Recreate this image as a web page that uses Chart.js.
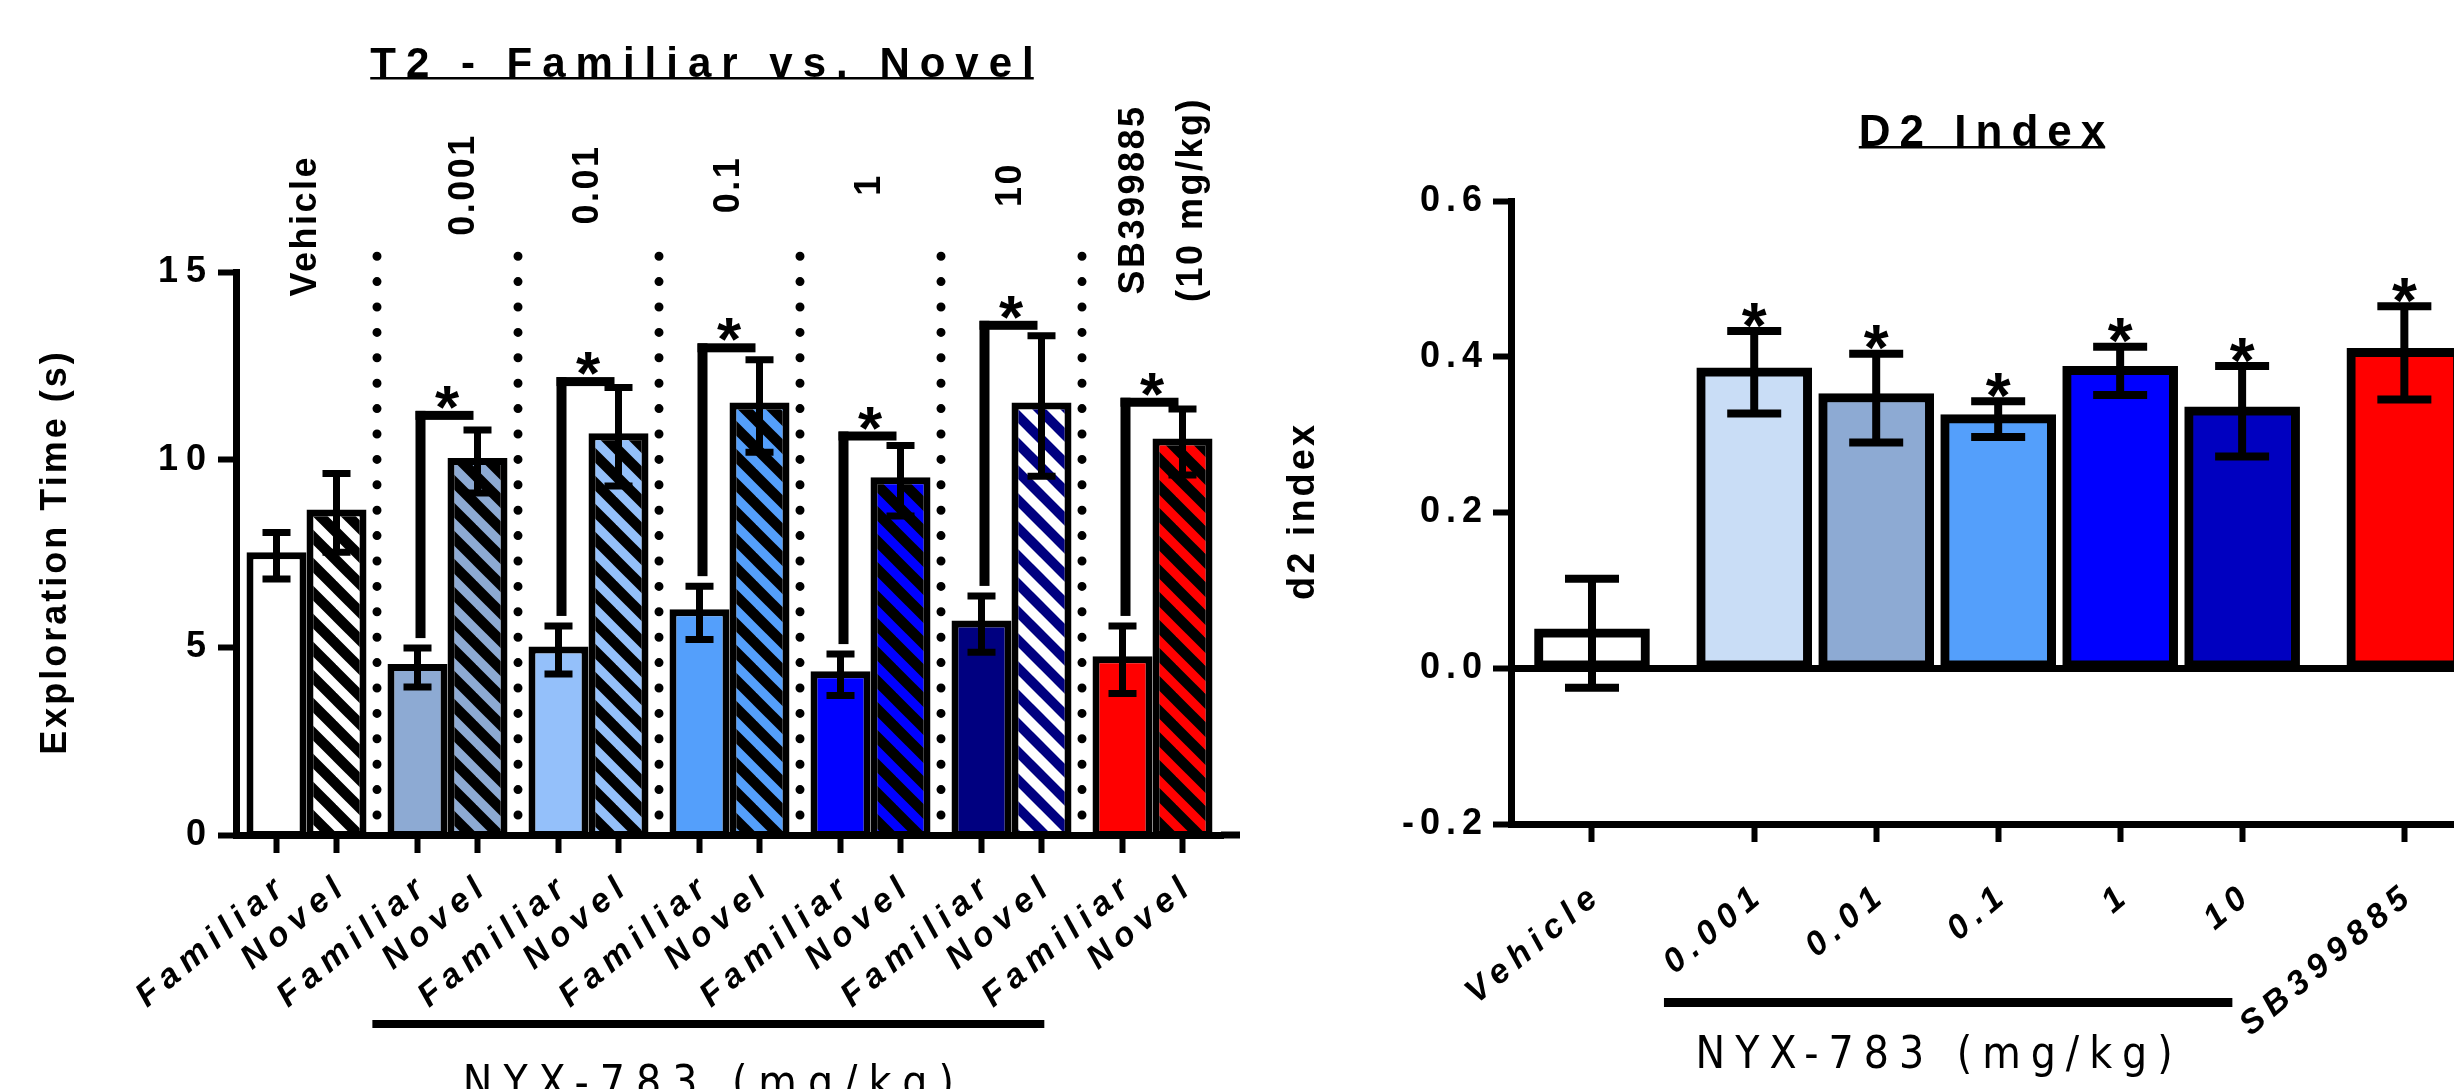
<!DOCTYPE html>
<html>
<head>
<meta charset="UTF-8">
<title>T2 - Familiar vs. Novel / D2 Index</title>
<script src="https://cdn.jsdelivr.net/npm/chart.js"></script>
<style>
  html, body { margin: 0; padding: 0; background: #fff; overflow: hidden; width: 2454px; height: 1089px; }
  #boxT2 { position: absolute; left: 0; top: 0; width: 1290px; height: 1150px; }
  #boxD2 { position: absolute; left: 1280px; top: 0; width: 1300px; height: 1150px; }
</style>
</head>
<body>
<div id="boxT2"><canvas id="chartT2" width="1290" height="1150"></canvas></div>
<div id="boxD2"><canvas id="chartD2" width="1300" height="1150"></canvas></div>
<script>
// ---- data: T2 exploration time (s) ----
const doseGroups = ['Vehicle', '0.001', '0.01', '0.1', '1', '10', 'SB399885'];
const sessionLabels = ['Familiar', 'Novel'];
const familiarMean = [7.44, 4.46, 4.93, 5.92, 4.27, 5.62, 4.67];
const familiarSem = [0.62, 0.52, 0.64, 0.71, 0.55, 0.75, 0.90];
const novelMean = [8.58, 9.95, 10.61, 11.43, 9.44, 11.43, 10.47];
const novelSem = [1.05, 0.84, 1.31, 1.23, 0.94, 1.87, 0.88];
const bracketLevel = [null, 11.3, 12.2, 13.1, 10.75, 13.7, 11.65];
const t2Ticks = [0, 5, 10, 15];

// ---- data: D2 index ----
const d2Groups = ['Vehicle', '0.001', '0.01', '0.1', '1', '10', 'SB399885'];
const d2Kind = ['control', 'nyx', 'nyx', 'nyx', 'nyx', 'nyx', 'reference'];
const d2Mean = [0.045, 0.38, 0.347, 0.32, 0.382, 0.33, 0.405];
const d2Sem = [0.07, 0.053, 0.057, 0.023, 0.031, 0.058, 0.06];
const d2Significant = [false, true, true, true, true, true, true];

// ---- styles ----
const FONT = "'Liberation Sans', Arial, sans-serif";
const NARROW = "'Liberation Sans Narrow', 'DejaVu Sans Condensed', sans-serif";
const t2Colors = ['#ffffff', '#8daad3', '#94c0fa', '#549ffb', '#0000ff', '#000080', '#ff0000'];
const d2Colors = ['#ffffff', '#c9ddf6', '#8daad3', '#549ffb', '#0000ff', '#0000c0', '#ff0000'];

function stripes(bg, fg, lw) {
    const c = document.createElement('canvas');
    c.width = 28; c.height = 28;
    const g = c.getContext('2d');
    g.fillStyle = bg;
    g.fillRect(0, 0, 28, 28);
    g.strokeStyle = fg;
    g.lineWidth = lw;
    for (let k = -1; k <= 1; k++) {
        g.beginPath();
        g.moveTo(k * 28 - 4, -4);
        g.lineTo(k * 28 + 32, 32);
        g.stroke();
    }
    return g.createPattern(c, 'repeat');
}
const novelFills = t2Colors.map((c, i) => i === 5 ? stripes('#000080', '#ffffff', 10) : stripes(c, '#000000', 10.5));

function drawText(ctx, text, x, y, o) {
    const s = o.spacing || 0;
    const align = o.align || 'center';
    ctx.save();
    ctx.font = o.font;
    ctx.letterSpacing = s + 'px';
    ctx.fillStyle = '#000';
    ctx.textAlign = align;
    ctx.textBaseline = o.baseline || 'alphabetic';
    ctx.translate(x, y);
    if (o.rotate) ctx.rotate(o.rotate);
    const shift = align === 'center' ? s / 2 : (align === 'right' ? s : 0);
    ctx.fillText(text, shift, 0);
    const w = ctx.measureText(text).width - s;
    ctx.restore();
    return w;
}

function drawErrorBar(ctx, x, yHi, yLo, half, lw) {
    ctx.lineWidth = lw;
    ctx.beginPath();
    ctx.moveTo(x, yHi); ctx.lineTo(x, yLo);
    ctx.moveTo(x - half, yHi); ctx.lineTo(x + half, yHi);
    ctx.moveTo(x - half, yLo); ctx.lineTo(x + half, yLo);
    ctx.stroke();
}

// bar outlines centred on the value line, as in the original figure
const centeredBorder = {
    id: 'centeredBorder',
    afterDatasetsUpdate(chart) {
        chart.data.datasets.forEach((ds, di) => {
            const half = ds.borderWidth / 2;
            chart.getDatasetMeta(di).data.forEach(el => { el.y -= half; el.base += half; });
        });
    }
};

const ROT = -40 * Math.PI / 180;

// ---- left chart extras ----
const t2Extras = {
    id: 't2Extras',
    beforeDraw(chart) { chart.ctx.letterSpacing = '8px'; },
    afterDraw(chart) {
        const ctx = chart.ctx, xs = chart.scales.x, ys = chart.scales.y;
        const fam = chart.getDatasetMeta(0).data, nov = chart.getDatasetMeta(1).data;
        const y0 = ys.getPixelForValue(0);
        const u = xs.getPixelForValue(1) - xs.getPixelForValue(0);
        ctx.save();
        ctx.letterSpacing = '0px';
        ctx.strokeStyle = '#000';
        ctx.fillStyle = '#000';

        // axis line runs a bit past the last group
        ctx.fillRect(chart.chartArea.right - 2, y0 - 3.5, 19, 7);

        // error bars
        fam.forEach((b, i) => drawErrorBar(ctx, b.x, ys.getPixelForValue(familiarMean[i] + familiarSem[i]), ys.getPixelForValue(familiarMean[i] - familiarSem[i]), 14, 7));
        nov.forEach((b, i) => drawErrorBar(ctx, b.x, ys.getPixelForValue(novelMean[i] + novelSem[i]), ys.getPixelForValue(novelMean[i] - novelSem[i]), 14, 7));

        // dotted separators between groups
        ctx.lineWidth = 9;
        ctx.lineCap = 'round';
        ctx.setLineDash([0, 25.4]);
        for (let i = 0; i < doseGroups.length - 1; i++) {
            const x = (nov[i].x + fam[i + 1].x) / 2;
            ctx.beginPath();
            ctx.moveTo(x, y0 - 20);
            ctx.lineTo(x, ys.getPixelForValue(16.0));
            ctx.stroke();
        }
        ctx.setLineDash([]);
        ctx.lineCap = 'butt';

        // significance brackets
        for (let i = 0; i < doseGroups.length; i++) {
            if (bracketLevel[i] === null) continue;
            const xf = fam[i].x + 3, xn = nov[i].x - 4;
            const yl = ys.getPixelForValue(bracketLevel[i]);
            const yb = ys.getPixelForValue(familiarMean[i] + familiarSem[i]) - 10;
            ctx.fillRect(xf - 5, yl, 10, yb - yl);
            ctx.fillRect(xf - 5, yl, xn - xf + 5, 9);
            drawText(ctx, '*', (xf + xn) / 2, yl + 17, { font: 'bold 62px ' + FONT });
        }

        // tick marks under each bar
        ctx.lineWidth = 6;
        fam.concat(nov).forEach(b => {
            ctx.beginPath();
            ctx.moveTo(b.x, y0);
            ctx.lineTo(b.x, y0 + 18);
            ctx.stroke();
        });

        // rotated session labels
        const lf = 'italic bold 34px ' + FONT;
        fam.forEach(b => drawText(ctx, sessionLabels[0], b.x + 8, y0 + 58, { font: lf, spacing: 7, align: 'right', rotate: ROT }));
        nov.forEach(b => drawText(ctx, sessionLabels[1], b.x + 8, y0 + 58, { font: lf, spacing: 7, align: 'right', rotate: ROT }));

        // NYX-783 bar and label
        const bx0 = fam[1].x - 0.32 * u, bx1 = nov[5].x + 0.02 * u;
        ctx.fillRect(bx0, y0 + 185, bx1 - bx0, 8);
        drawText(ctx, 'NYX-783 (mg/kg)', (bx0 + bx1) / 2, y0 + 262, { font: '44px ' + NARROW, spacing: 11 });

        // group labels above the bars
        const gf = 'bold 36px ' + FONT;
        const up = -Math.PI / 2;
        for (let i = 0; i < 6; i++) {
            const gx = xs.getPixelForValue(i) + (i === 1 ? 0.12 * u : 0);
            const gy = ys.getPixelForValue(i === 0 ? 16.2 : 17.3);
            drawText(ctx, doseGroups[i], gx, gy, { font: gf, spacing: 2.5, rotate: up, baseline: 'middle' });
        }
        const sx = xs.getPixelForValue(6);
        drawText(ctx, doseGroups[6], sx - 18, ys.getPixelForValue(16.9), { font: gf, spacing: 2.5, rotate: up, baseline: 'middle' });
        drawText(ctx, '(10 mg/kg)', sx + 40, ys.getPixelForValue(16.9), { font: gf, spacing: 2.5, rotate: up, baseline: 'middle' });

        // title and axis title
        const tw = drawText(ctx, 'T2 - Familiar vs. Novel', 702, 77, { font: 'bold 42px ' + FONT, spacing: 10 });
        ctx.fillRect(702 - tw / 2, 77, tw, 2.5);
        drawText(ctx, 'Exploration Time (s)', 56, (ys.top + ys.bottom) / 2, { font: 'bold 36px ' + FONT, spacing: 3, rotate: up, baseline: 'middle' });
        ctx.restore();
    }
};

new Chart(document.getElementById('chartT2'), {
    type: 'bar',
    data: {
        labels: doseGroups,
        datasets: [
            { label: sessionLabels[0], data: familiarMean, backgroundColor: t2Colors,
              borderColor: '#000', borderWidth: 7, borderSkipped: false,
              categoryPercentage: 0.851, barPercentage: 1.0 },
            { label: sessionLabels[1], data: novelMean, backgroundColor: novelFills,
              borderColor: '#000', borderWidth: 7, borderSkipped: false,
              categoryPercentage: 0.851, barPercentage: 1.0 }
        ]
    },
    options: {
        responsive: false,
        animation: false,
        devicePixelRatio: 1,
        layout: { padding: { top: 272, left: 0, right: 67, bottom: 0 } },
        plugins: { legend: { display: false }, tooltip: { enabled: false } },
        scales: {
            x: {
                grid: { display: false },
                ticks: { display: false },
                border: { display: true, color: '#000', width: 7 },
                afterFit(s) { s.height = 315; }
            },
            y: {
                min: 0, max: 15,
                afterBuildTicks(s) { s.ticks = t2Ticks.map(v => ({ value: v })); },
                ticks: { color: '#000', padding: 4, font: { family: FONT, size: 36, weight: 'bold' } },
                grid: { display: true, drawOnChartArea: false, drawTicks: true, tickLength: 18, tickWidth: 6, tickColor: '#000' },
                border: { display: true, color: '#000', width: 7 },
                afterFit(s) { s.width = 236; }
            }
        }
    },
    plugins: [centeredBorder, t2Extras]
});

// ---- right chart ----
const kindGap = 0.33;
const d2X = [];
let pos = 0;
d2Groups.forEach((g, i) => {
    if (i > 0) pos += 1 + (d2Kind[i] !== d2Kind[i - 1] ? kindGap : 0);
    d2X.push(pos);
});

const d2Extras = {
    id: 'd2Extras',
    beforeDraw(chart) { chart.ctx.letterSpacing = '6px'; },
    afterDraw(chart) {
        const ctx = chart.ctx, xs = chart.scales.x, ys = chart.scales.y;
        const bars = chart.getDatasetMeta(0).data;
        const yb = ys.bottom;
        const u = xs.getPixelForValue(1) - xs.getPixelForValue(0);
        ctx.save();
        ctx.letterSpacing = '0px';
        ctx.strokeStyle = '#000';
        ctx.fillStyle = '#000';

        bars.forEach((b, i) => {
            const hi = ys.getPixelForValue(d2Mean[i] + d2Sem[i]);
            drawErrorBar(ctx, b.x, hi, ys.getPixelForValue(d2Mean[i] - d2Sem[i]), 27, 8);
            if (d2Significant[i]) {
                drawText(ctx, '*', b.x, ys.getPixelForValue(d2Mean[i] + d2Sem[i] + 0.025) + 36, { font: 'bold 64px ' + FONT });
            }
        });

        const lf = 'italic bold 34px ' + FONT;
        d2Groups.forEach((g, i) => {
            drawText(ctx, g, xs.getPixelForValue(d2X[i]) + 7, yb + 78, { font: lf, spacing: 7, align: 'right', rotate: ROT });
        });

        const bx0 = xs.getPixelForValue(d2X[1]) - 0.74 * u, bx1 = xs.getPixelForValue(d2X[5]) - 0.08 * u;
        ctx.fillRect(bx0, yb + 174, bx1 - bx0, 9);
        drawText(ctx, 'NYX-783 (mg/kg)', (bx0 + bx1) / 2 - 14, yb + 244, { font: '44px ' + NARROW, spacing: 10 });

        const tw = drawText(ctx, 'D2 Index', 702, 146, { font: 'bold 44px ' + FONT, spacing: 9 });
        ctx.fillRect(702 - tw / 2, 146, tw, 2.5);
        drawText(ctx, 'd2 index', 24, (ys.top + ys.bottom) / 2, { font: 'bold 38px ' + FONT, spacing: 3, rotate: -Math.PI / 2, baseline: 'middle' });
        ctx.restore();
    }
};

new Chart(document.getElementById('chartD2'), {
    type: 'bar',
    data: {
        datasets: [{
            label: 'd2 index',
            data: d2X.map((x, i) => ({ x: x, y: d2Mean[i] })),
            backgroundColor: d2Colors,
            borderColor: '#000', borderWidth: 9, borderSkipped: false,
            barThickness: 115
        }]
    },
    options: {
        responsive: false,
        animation: false,
        devicePixelRatio: 1,
        layout: { padding: { top: 201, left: 0, right: 0, bottom: 0 } },
        plugins: { legend: { display: false }, tooltip: { enabled: false } },
        scales: {
            x: {
                type: 'linear',
                offset: false,
                min: -0.664, max: 8.1,
                afterBuildTicks(s) { s.ticks = d2X.map(v => ({ value: v })); },
                ticks: { display: false },
                grid: { display: true, offset: false, drawOnChartArea: false, drawTicks: true, tickLength: 18, tickWidth: 6, tickColor: '#000' },
                border: { display: true, color: '#000', width: 7 },
                afterFit(s) { s.height = 326; }
            },
            y: {
                min: -0.2, max: 0.6,
                ticks: { stepSize: 0.2, color: '#000', padding: 5, font: { family: FONT, size: 36, weight: 'bold' },
                         callback: v => v.toFixed(1) },
                grid: { display: true, drawOnChartArea: true, drawTicks: true, tickLength: 18, tickWidth: 6, tickColor: '#000',
                        lineWidth: 7,
                        color: c => (c.tick && Math.abs(c.tick.value) < 1e-9) ? '#000' : 'rgba(0,0,0,0)' },
                border: { display: true, color: '#000', width: 7 },
                afterFit(s) { s.width = 231; }
            }
        }
    },
    plugins: [centeredBorder, d2Extras]
});
</script>
</body>
</html>
